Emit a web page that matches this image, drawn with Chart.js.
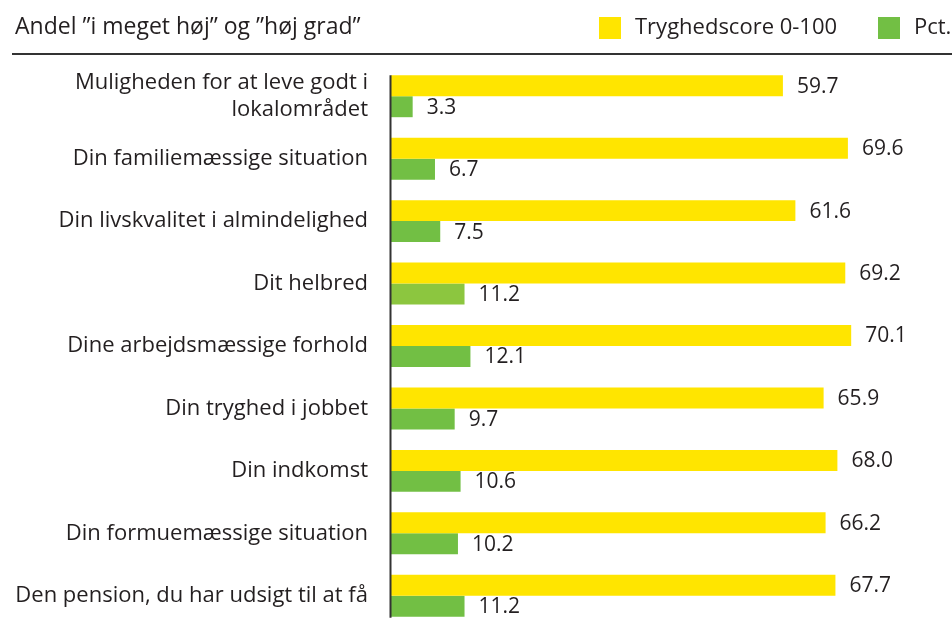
<!DOCTYPE html>
<html>
<head>
<meta charset="utf-8">
<script src="https://cdn.jsdelivr.net/npm/chart.js@4/dist/chart.umd.min.js"></script>
<style>
  html, body { margin: 0; padding: 0; background: #ffffff; }
  #wrap { width: 952px; height: 635px; position: relative; overflow: hidden; }
</style>
</head>
<body>
<div id="wrap"><canvas id="c" width="952" height="635"></canvas></div>
<script>
// ---- data ----
const headerText = 'Andel \u201Di meget høj\u201D og \u201Dhøj grad\u201D';
const categories = [
  ['Muligheden for at leve godt i', 'lokalområdet'],
  'Din familiemæssige situation',
  'Din livskvalitet i almindelighed',
  'Dit helbred',
  'Dine arbejdsmæssige forhold',
  'Din tryghed i jobbet',
  'Din indkomst',
  'Din formuemæssige situation',
  'Den pension, du har udsigt til at få'
];
const seriesLabels = ['Tryghedscore 0-100', 'Pct.'];
const tryghedscore = [59.7, 69.6, 61.6, 69.2, 70.1, 65.9, 68.0, 66.2, 67.7];
const pct = [3.3, 6.7, 7.5, 11.2, 12.1, 9.7, 10.6, 10.2, 11.2];

// ---- styles ----
const FONT = '"Open Sans", "Noto Sans", sans-serif';
const TEXT = '#231f20';
const YELLOW = '#FFE500';
const GREEN = '#72BF44';
const GREEN_LIGHT = '#8CC63F';

const decorPlugin = {
  id: 'decor',
  afterDatasetsDraw(chart) {
    const ctx = chart.ctx;
    const xs = chart.scales.x;
    ctx.save();
    // value labels
    ctx.font = '21px ' + FONT;
    ctx.fillStyle = TEXT;
    ctx.textBaseline = 'middle';
    ctx.textAlign = 'left';
    chart.data.datasets.forEach((ds, di) => {
      const meta = chart.getDatasetMeta(di);
      meta.data.forEach((el, i) => {
        ctx.fillText(ds.data[i].toFixed(1), el.x + 14, el.y + 1);
      });
    });
    // vertical axis line spanning the bars
    const first = chart.getDatasetMeta(0).data[0];
    const lastMeta = chart.getDatasetMeta(chart.data.datasets.length - 1);
    const last = lastMeta.data[lastMeta.data.length - 1];
    const x0 = Math.round(xs.getPixelForValue(0)) - 0.5;
    ctx.strokeStyle = '#333333';
    ctx.lineWidth = 2;
    ctx.beginPath();
    ctx.moveTo(x0, first.y - first.height / 2);
    ctx.lineTo(x0, last.y + last.height / 2 + 1);
    ctx.stroke();

    // header
    ctx.font = '23px ' + FONT;
    ctx.textBaseline = 'alphabetic';
    ctx.fillStyle = TEXT;
    ctx.fillText(headerText, 15, 34);
    ctx.strokeStyle = '#333333';
    ctx.lineWidth = 2;
    ctx.beginPath();
    ctx.moveTo(12, 54);
    ctx.lineTo(chart.width, 54);
    ctx.stroke();

    // legend
    ctx.font = '22px ' + FONT;
    const legendX = [599, 878];
    chart.data.datasets.forEach((ds, di) => {
      ctx.fillStyle = ds.legendColor;
      ctx.fillRect(legendX[di], 17, 22, 22);
      ctx.fillStyle = TEXT;
      ctx.fillText(ds.label, legendX[di] + 36, 34);
    });
    ctx.restore();
  }
};

new Chart(document.getElementById('c'), {
  type: 'bar',
  data: {
    labels: categories,
    datasets: [
      {
        label: seriesLabels[0],
        data: tryghedscore,
        backgroundColor: YELLOW,
        legendColor: YELLOW,
        categoryPercentage: 0.672,
        barPercentage: 1.0
      },
      {
        label: seriesLabels[1],
        data: pct,
        backgroundColor: pct.map((v, i) => i === 3 ? GREEN_LIGHT : GREEN),
        legendColor: GREEN,
        categoryPercentage: 0.672,
        barPercentage: 1.0
      }
    ]
  },
  options: {
    indexAxis: 'y',
    responsive: false,
    devicePixelRatio: 1,
    animation: false,
    layout: { padding: { top: 65, bottom: 8, left: 0, right: 3 } },
    plugins: {
      legend: { display: false },
      tooltip: { enabled: false },
      title: { display: false }
    },
    scales: {
      x: {
        display: false,
        min: 0,
        max: 85
      },
      y: {
        grid: { display: false },
        border: { display: false },
        ticks: {
          padding: 15,
          color: TEXT,
          font: { family: FONT, size: 22, lineHeight: 1.27 }
        },
        afterFit(scale) {
          scale.width = 391;
          scale.paddingTop = 0;
          scale.paddingBottom = 0;
        }
      }
    }
  },
  plugins: [decorPlugin]
});
</script>
</body>
</html>
